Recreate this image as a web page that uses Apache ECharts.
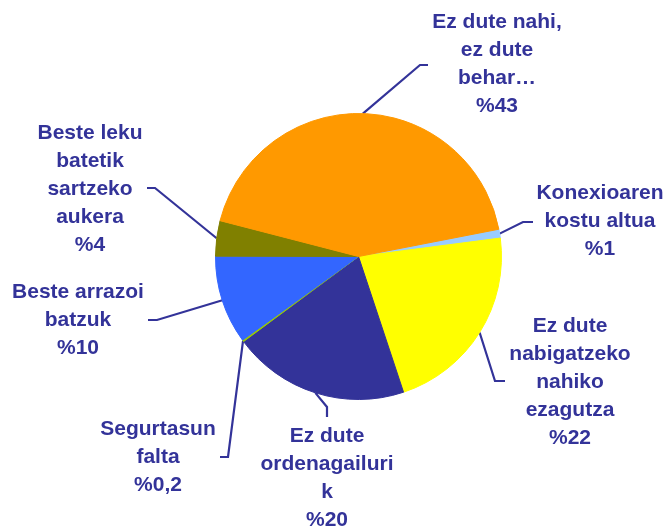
<!DOCTYPE html>
<html>
<head>
<meta charset="utf-8">
<script src="https://cdn.jsdelivr.net/npm/echarts@6/dist/echarts.min.js"></script>
<style>
html,body{margin:0;padding:0;background:#fff;}
#chart{width:667px;height:529px;}
</style>
</head>
<body>
<div id="chart"></div>
<script>
// Data
const categories = [
  'Konexioaren\nkostu altua',
  'Ez dute\nnabigatzeko\nnahiko\nezagutza',
  'Ez dute\nordenagailuri\nk',
  'Segurtasun\nfalta',
  'Beste arrazoi\nbatzuk',
  'Beste leku\nbatetik\nsartzeko\naukera',
  'Ez dute nahi,\nez dute\nbehar…'
];
const values = [1, 22, 20, 0.2, 10, 4, 43];
const colors = ['#99CCFF', '#FFFF00', '#333399', '#99CC00', '#3366FF', '#808000', '#FF9900'];

// Label placement (pixels): label centre, leader-line elbow and end
const labelLayouts = [
  {x: 600, y: 221, elbow: [523, 222], end: [533, 222]},
  {x: 570, y: 382, elbow: [495, 381], end: [505, 381]},
  {x: 327, y: 478, elbow: [327, 407], end: [327, 417]},
  {x: 158, y: 457, elbow: [228, 457], end: [220, 457]},
  {x: 78,  y: 320, elbow: [157, 320], end: [148, 320]},
  {x: 90,  y: 189, elbow: [155, 188], end: [147, 188]},
  {x: 497, y: 64,  elbow: [420, 65],  end: [428, 65]}
];

const chart = echarts.init(document.getElementById('chart'), null, {renderer: 'canvas'});
const textColor = '#333399';

chart.setOption({
  animation: false,
  backgroundColor: '#ffffff',
  series: [{
    type: 'pie',
    center: [358.5, 256.5],
    radius: 143,
    startAngle: 11,
    clockwise: true,
    avoidLabelOverlap: false,
    data: categories.map((c, i) => ({
      name: c, value: values[i],
      itemStyle: {color: colors[i], borderColor: colors[i], borderWidth: 1}
    })),
    label: {
      show: true,
      position: 'outside',
      color: textColor,
      fontFamily: 'Liberation Sans, Arial, sans-serif',
      fontWeight: 'bold',
      fontSize: 21,
      lineHeight: 28,
      align: 'center',
      formatter: p => p.name + '\n%' + String(p.value).replace('.', ',')
    },
    labelLine: {
      show: true,
      length: 10,
      length2: 10,
      smooth: false,
      lineStyle: {color: textColor, width: 2.2}
    },
    labelLayout: function (params) {
      const L = labelLayouts[params.dataIndex];
      const anchor = params.labelLinePoints ? params.labelLinePoints[0] : L.elbow;
      return {
        x: L.x,
        y: L.y,
        align: 'center',
        verticalAlign: 'middle',
        labelLinePoints: [anchor, L.elbow, L.end]
      };
    },
    emphasis: {disabled: true}
  }]
});
</script>
</body>
</html>
